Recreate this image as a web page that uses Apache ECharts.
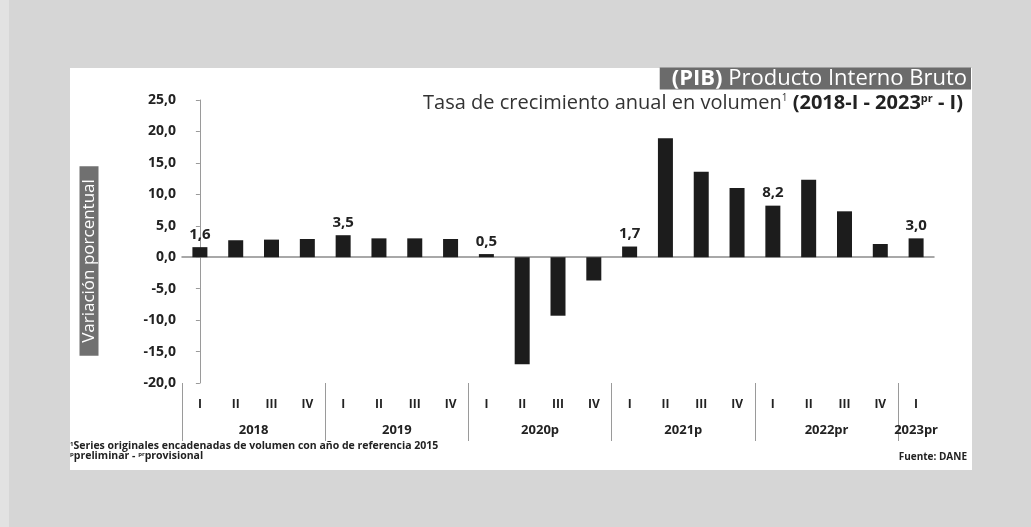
<!DOCTYPE html>
<html>
<head>
<meta charset="utf-8">
<title>PIB - Tasa de crecimiento anual</title>
<script src="https://cdn.jsdelivr.net/npm/echarts@6/dist/echarts.min.js"></script>
<style>
  html, body { margin: 0; padding: 0; background: #d6d6d6; }
  #main { width: 1031px; height: 527px; }
</style>
</head>
<body>
<div id="main"></div>
<script>
// trimestres 2018-I .. 2023-I
const quarters = ['I', 'II', 'III', 'IV', 'I', 'II', 'III', 'IV', 'I', 'II', 'III', 'IV',
  'I', 'II', 'III', 'IV', 'I', 'II', 'III', 'IV', 'I'];
const growth = [1.6, 2.7, 2.8, 2.9, 3.5, 3.0, 3.0, 2.9, 0.5, -17.0, -9.3, -3.7,
  1.7, 18.9, 13.6, 11.0, 8.2, 12.3, 7.3, 2.1, 3.0];
const years = ['2018', '2019', '2020p', '2021p', '2022pr', '2023pr'];
const quartersPerYear = [4, 4, 4, 4, 4, 1];

const fmt = v => v.toFixed(1).replace('.', ',');

// year centres and separators on a value axis aligned with the category bands
let yearCenters = [];
let separators = [-0.5];
let start = 0;
quartersPerYear.forEach((n, i) => {
  yearCenters.push(n === 1 ? start : start + (n - 1) / 2);
  start += n;
  if (i < quartersPerYear.length - 1) separators.push(start - 0.5);
});

// only the first quarter of each year gets a value label
let firstIdx = [];
let s = 0;
quartersPerYear.forEach(n => { firstIdx.push(s); s += n; });

let barData = growth.map((v, i) => ({
  value: v,
  label: { show: firstIdx.indexOf(i) >= 0 }
}));

const font = 'Open Sans';

let option = {
  backgroundColor: '#d6d6d6',
  textStyle: { fontFamily: font },
  graphic: [
    { type: 'rect', left: 0, top: 0, shape: { width: 9, height: 527 }, style: { fill: '#e2e2e2' }, z: -10 },
    { type: 'rect', shape: { x: 70, y: 68, width: 902, height: 402 }, style: { fill: '#ffffff' }, z: -10 },
    {
      type: 'text',
      x: 89, y: 261,
      rotation: Math.PI / 2,
      style: {
        text: 'Variación porcentual',
        fill: '#ffffff',
        font: '17px "Open Sans"',
        align: 'center',
        verticalAlign: 'middle',
        backgroundColor: '#707070',
        padding: [1, 13, 1, 13]
      }
    }
  ],
  title: [
    {
      text: '{b|(PIB)} Producto Interno Bruto',
      right: 60, top: 68,
      backgroundColor: '#6b6b6b',
      padding: [0, 4, 0, 12],
      textStyle: {
        color: '#ffffff', fontSize: 22, fontWeight: 'normal', fontFamily: font, lineHeight: 21,
        rich: { b: { color: '#ffffff', fontSize: 22, fontWeight: 'bold', fontFamily: font, lineHeight: 21 } }
      }
    },
    {
      text: 'Tasa de crecimiento anual en volumen{sup|1} {b|(2018-I - 2023}{supb|pr}{b| - I)}',
      right: 68, top: 93,
      padding: 0,
      textStyle: {
        color: '#333333', fontSize: 20, fontWeight: 'normal', fontFamily: font,
        rich: {
          b: { fontSize: 20, fontWeight: 'bold', color: '#222222', fontFamily: font },
          sup: { fontSize: 10, color: '#333333', verticalAlign: 'top', padding: [0, 0, 10, 0], fontFamily: font },
          supb: { fontSize: 11, fontWeight: 'bold', color: '#222222', verticalAlign: 'top', padding: [0, 0, 10, 0], fontFamily: font }
        }
      }
    },
    {
      text: '{s|1}Series originales encadenadas de volumen con año de referencia 2015\n{s|p}preliminar - {s|pr}provisional',
      left: 70, top: 441,
      padding: 0,
      textStyle: {
        color: '#222222', fontSize: 10.5, fontWeight: 'bold', fontFamily: font, lineHeight: 10,
        rich: { s: { fontSize: 6, fontWeight: 'bold', color: '#222222', verticalAlign: 'top', padding: [0, 0, 3, 0] } }
      }
    },
    {
      text: 'Fuente: DANE',
      right: 64, top: 452,
      padding: 0,
      textStyle: { color: '#222222', fontSize: 10, fontWeight: 'bold', fontFamily: font }
    }
  ],
  grid: { left: 182, right: 97, top: 100, bottom: 144, containLabel: false },
  xAxis: [
    {
      type: 'category',
      data: quarters,
      axisLine: { onZero: true, lineStyle: { color: '#8c8c8c', width: 1.5 } },
      axisTick: { show: false },
      axisLabel: { show: false }
    },
    {
      type: 'category',
      data: quarters,
      position: 'bottom',
      axisLine: { show: false },
      axisTick: { show: false },
      axisLabel: { margin: 16, color: '#222222', fontSize: 12, fontWeight: 'bold', fontFamily: font }
    },
    {
      type: 'value',
      min: -0.5,
      max: quarters.length - 0.5,
      position: 'bottom',
      axisLine: { show: false },
      splitLine: { show: false },
      axisTick: {
        show: true, customValues: separators, length: 58, inside: false,
        lineStyle: { color: '#9a9a9a', width: 1 }
      },
      axisLabel: {
        customValues: yearCenters,
        margin: 41,
        color: '#222222', fontSize: 13, fontWeight: 'bold', fontFamily: font,
        formatter: v => years[yearCenters.indexOf(v)]
      }
    }
  ],
  yAxis: {
    type: 'value',
    min: -20,
    max: 25,
    interval: 5,
    axisLine: { show: true, lineStyle: { color: '#9a9a9a' } },
    axisTick: { show: true, length: 4, lineStyle: { color: '#9a9a9a' } },
    splitLine: { show: false },
    axisLabel: {
      margin: 6, color: '#222222', fontSize: 14, fontWeight: 'bold', fontFamily: font,
      formatter: v => fmt(v)
    }
  },
  series: [
    {
      name: 'PIB',
      type: 'bar',
      xAxisIndex: 0,
      barWidth: 15,
      data: barData,
      itemStyle: { color: '#1c1c1c' },
      label: {
        position: 'top',
        distance: 5,
        color: '#222222',
        fontSize: 15,
        fontWeight: 'bold',
        fontFamily: font,
        formatter: p => fmt(p.value)
      }
    }
  ]
};

let chartDom = document.getElementById('main');
let myChart = echarts.init(chartDom);
myChart.setOption(option);
</script>
</body>
</html>
